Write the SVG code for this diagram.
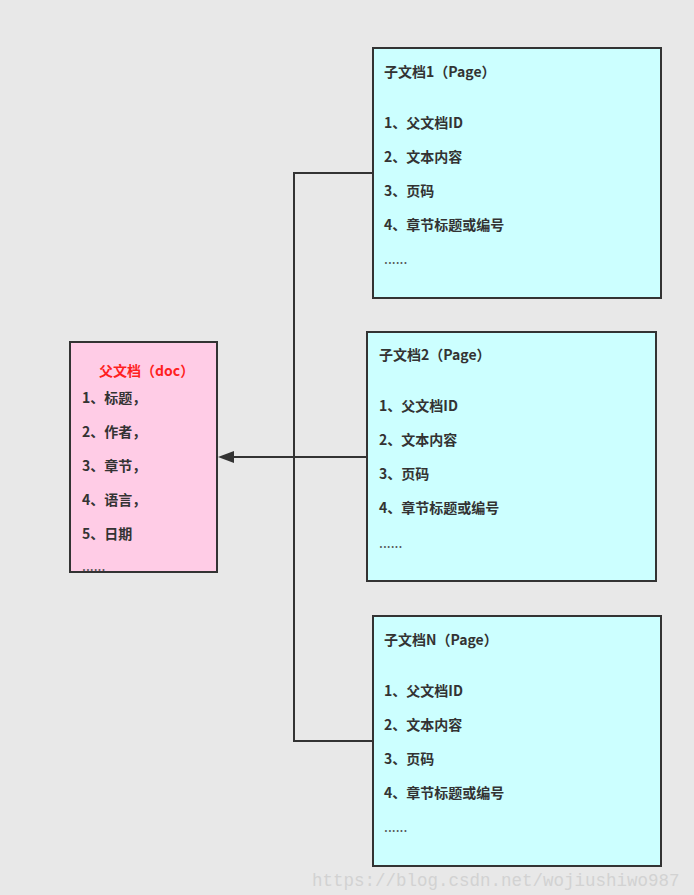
<svg xmlns="http://www.w3.org/2000/svg" width="694" height="895" viewBox="0 0 694 895">
<defs>
<style>
.t{font-family:"Noto Sans CJK SC","Noto Sans",sans-serif;font-size:14px;font-weight:bold;fill:#333}
.d{font-family:"Noto Sans CJK SC","Noto Sans",sans-serif;font-size:14px;fill:#555}
.red{fill:#ff1f1f}
.box{stroke:#333;stroke-width:2}
.line{stroke:#333;stroke-width:2;fill:none}
</style>
</defs>
<rect width="694" height="895" fill="#e8e8e8"/>
<g id="connectors">
<polyline class="line" points="373,173 294,173 294,741 373,741"/>
<line class="line" x1="367" y1="457" x2="234" y2="457"/>
<path d="M218,457 L234,451 L234,463 Z" fill="#333"/>
</g>
<g id="parent">
<rect x="70" y="342" width="147" height="230" fill="#ffcce6"/>
<text class="t red" x="99" y="376">父文档（doc）</text>
<text class="t" x="82" y="403">1、标题，</text>
<text class="t" x="82" y="437">2、作者，</text>
<text class="t" x="82" y="471">3、章节，</text>
<text class="t" x="82" y="505">4、语言，</text>
<text class="t" x="82" y="539">5、日期</text>
<text class="d" x="82" y="571">......</text>
<rect x="70" y="342" width="147" height="230" fill="none" class="box"/>
</g>
<g id="child1">
<rect x="373" y="48" width="288" height="250" fill="#ccffff" class="box"/>
<text class="t" x="384" y="77">子文档1（Page）</text>
<text class="t" x="384" y="128">1、父文档ID</text>
<text class="t" x="384" y="162">2、文本内容</text>
<text class="t" x="384" y="196">3、页码</text>
<text class="t" x="384" y="230">4、章节标题或编号</text>
<text class="d" x="384" y="264">......</text>
</g>
<g id="child2">
<rect x="367" y="332" width="289" height="249" fill="#ccffff" class="box"/>
<text class="t" x="379" y="360">子文档2（Page）</text>
<text class="t" x="379" y="411">1、父文档ID</text>
<text class="t" x="379" y="445">2、文本内容</text>
<text class="t" x="379" y="479">3、页码</text>
<text class="t" x="379" y="513">4、章节标题或编号</text>
<text class="d" x="379" y="548">......</text>
</g>
<g id="childN">
<rect x="373" y="616" width="288" height="250" fill="#ccffff" class="box"/>
<text class="t" x="384" y="645">子文档N（Page）</text>
<text class="t" x="384" y="696">1、父文档ID</text>
<text class="t" x="384" y="730">2、文本内容</text>
<text class="t" x="384" y="764">3、页码</text>
<text class="t" x="384" y="798">4、章节标题或编号</text>
<text class="d" x="384" y="832">......</text>
</g>
<text x="312" y="886" style="font-family:'Liberation Mono',monospace;font-size:17.5px;fill:#d2d2d2">https://blog.csdn.net/wojiushiwo987</text>
</svg>
